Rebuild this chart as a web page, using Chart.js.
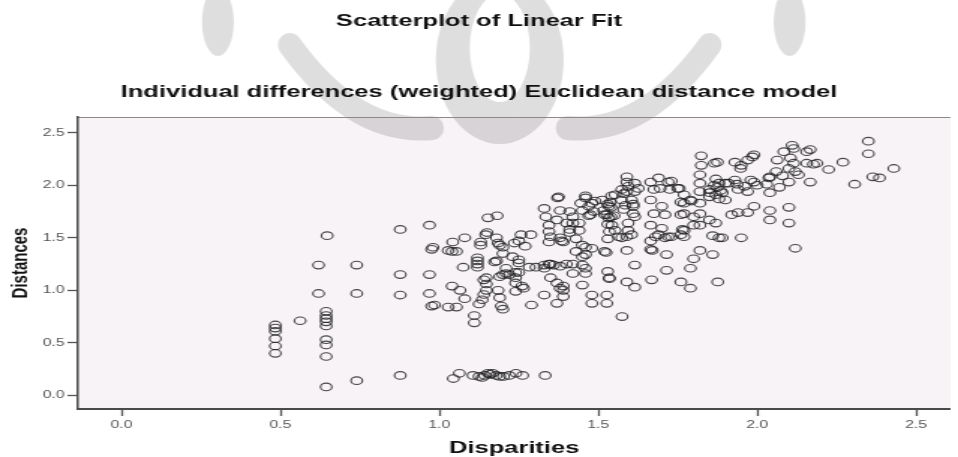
<!DOCTYPE html>
<html>
<head>
<meta charset="utf-8">
<title>Scatterplot of Linear Fit</title>
<script src="https://cdn.jsdelivr.net/npm/chart.js@4.4.1/dist/chart.umd.min.js"></script>
<style>
  html, body { margin: 0; padding: 0; background: #fff; }
  /* the source picture is stretched sideways, so the canvas is drawn narrow and widened by CSS */
  #chart { display: block; width: 958px !important; height: 457px !important; }
</style>
</head>
<body>
<canvas id="chart" width="639" height="457" style="width:958px;height:457px"></canvas>
<script>
// [disparity, distance] pairs, grouped by region
const leftColumns = [
  [0.484,0.67],[0.484,0.64],[0.484,0.61],[0.484,0.54],[0.484,0.47],[0.484,0.40],
  [0.562,0.71],[0.620,1.24],[0.620,0.97],[0.647,1.52],
  [0.644,0.80],[0.644,0.76],[0.644,0.73],[0.644,0.70],[0.644,0.66],[0.644,0.53],[0.644,0.48],[0.644,0.37],[0.644,0.08],
  [0.740,1.24],[0.740,0.97],[0.740,0.14],
  [0.877,1.58],[0.877,1.15],[0.877,0.955],[0.877,0.19],
  [0.969,1.62],[0.969,1.15],[0.969,0.97]
];

const bottomRow = [
  [1.044,0.16],[1.063,0.21],[1.106,0.19],[1.125,0.18],[1.135,0.17],[1.143,0.19],[1.153,0.21],[1.160,0.20],
  [1.168,0.21],[1.179,0.19],[1.190,0.18],[1.202,0.18],[1.220,0.19],[1.241,0.21],[1.262,0.19],[1.333,0.19]
];

const middleBand = [
  [0.976,1.39],[0.980,1.41],[0.976,0.85],[0.985,0.86],
  [1.028,0.84],[1.054,0.84],[1.028,1.38],[1.054,1.37],[1.040,1.37],[1.042,1.46],
  [1.040,1.04],[1.065,1.00],[1.080,1.50],[1.075,1.22],[1.080,0.92],
  [1.110,0.76],[1.110,0.69],
  [1.120,1.31],[1.120,1.28],[1.120,1.25],[1.120,1.22],
  [1.130,1.43],[1.130,1.46],[1.146,1.53],[1.150,1.55],[1.153,1.69],[1.182,1.71],
  [1.148,1.12],[1.148,1.06],[1.148,1.00],[1.140,0.96],[1.135,0.91],[1.140,1.10],[1.125,0.87],
  [1.185,1.00],[1.190,0.93],[1.195,0.85],[1.200,0.82],[1.174,1.27],[1.180,1.28],
  [1.190,1.43],[1.200,1.41],[1.200,1.35],[1.185,1.45],[1.180,1.50],
  [1.200,1.15],[1.210,1.16],[1.190,1.13],[1.210,1.21],[1.220,1.15],[1.240,1.12],
  [1.236,1.45],[1.230,1.32],[1.250,1.29],[1.250,1.26],[1.250,1.17],[1.240,1.17],[1.240,1.07],[1.240,0.99],[1.265,1.02],
  [1.257,1.53],[1.288,1.53],[1.250,1.47],[1.260,1.04],[1.270,1.42],
  [1.283,1.22],[1.304,1.22],[1.330,1.21],[1.290,0.86],
  [1.330,1.24],[1.345,1.25],[1.350,1.25],[1.360,1.24],[1.380,1.23],
  [1.330,0.955],
  [1.330,1.78],[1.335,1.70],[1.345,1.62],[1.345,1.56],[1.345,1.46],[1.350,1.51],
  [1.372,1.88],[1.375,1.89],[1.380,1.76],[1.380,1.50],[1.390,1.46],[1.385,1.47],[1.370,1.67],
  [1.350,1.12],[1.370,1.07],[1.380,1.02],[1.390,1.04],[1.390,1.00],[1.390,0.94],[1.370,0.876],
  [1.400,1.25],[1.420,1.25],[1.410,1.58],[1.420,1.70],[1.430,1.49],[1.400,1.64],[1.420,1.64],
  [1.410,1.55],[1.410,1.75],[1.430,1.37],[1.420,1.16],
  [1.440,1.57],[1.440,1.64],[1.445,1.83]
];

const upperBand = [
  [1.450,1.76],[1.460,1.88],[1.470,1.80],[1.470,1.71],[1.475,1.72],
  [1.450,1.43],[1.460,1.41],[1.480,1.40],[1.450,1.32],[1.460,1.34],[1.450,1.24],[1.460,1.21],[1.460,1.16],[1.450,1.05],
  [1.460,1.90],[1.480,1.83],[1.490,1.85],[1.486,1.75],
  [1.480,0.955],[1.480,0.876],[1.527,0.955],[1.527,0.876],
  [1.520,1.72],[1.540,1.70],[1.550,1.71],[1.530,1.82],[1.540,1.79],[1.530,1.63],[1.535,1.56],[1.530,1.49],[1.525,1.36],[1.520,1.37],
  [1.530,1.18],[1.535,1.12],[1.535,1.11],[1.575,0.75],
  [1.580,1.92],[1.585,1.81],[1.580,1.77],[1.542,1.90],[1.573,1.86],
  [1.590,1.08],[1.615,1.03],[1.615,1.24],[1.668,1.10],[1.590,1.38],
  [1.590,2.08],[1.590,2.03],[1.594,1.99],[1.615,2.02],[1.626,1.97],[1.615,1.94],[1.590,1.94],[1.605,1.86],
  [1.610,1.80],[1.610,1.82],[1.610,1.73],[1.615,1.70],[1.594,1.64],[1.594,1.57],[1.590,1.51],[1.605,1.53],
  [1.574,1.50],[1.564,1.51],[1.553,1.57],[1.543,1.62],[1.533,1.69],[1.527,1.72],[1.517,1.76],[1.533,1.80],
  [1.538,1.84],[1.512,1.86],[1.553,1.91],[1.574,1.96],
  [1.665,1.39],[1.670,1.38],[1.665,1.47],[1.715,1.19],[1.715,1.34],
  [1.700,1.80],[1.710,1.72],[1.700,1.59],[1.710,1.50],[1.690,1.53],[1.680,1.51],[1.665,1.62],[1.675,1.73],
  [1.665,1.86],[1.675,1.96],[1.665,2.03],
  [1.690,2.07],[1.695,1.97],[1.720,2.03],[1.725,1.96],[1.730,2.04],[1.750,1.97],[1.755,1.97],[1.770,1.91],
  [1.760,1.84],[1.790,1.86],[1.770,1.83],[1.793,1.85],
  [1.760,1.72],[1.770,1.73],[1.800,1.70],[1.820,1.73],[1.820,1.62],[1.800,1.62],[1.850,1.67],[1.870,1.64],
  [1.760,1.53],[1.770,1.57],[1.720,1.51],[1.730,1.51],[1.770,1.51],[1.765,1.58],
  [1.760,1.08],[1.790,1.02],[1.790,1.21],[1.800,1.30],[1.820,1.38],[1.860,1.34],[1.876,1.08],
  [1.860,1.52],[1.880,1.50],[1.890,1.50],
  [1.820,2.10],[1.820,2.02],[1.820,1.94],[1.820,1.83],[1.850,1.96],[1.850,1.89],[1.850,1.93],
  [1.870,2.06],[1.880,2.02],[1.875,1.98],[1.885,1.95],[1.870,1.91],[1.880,1.87],[1.890,1.93],[1.865,2.00],
  [1.824,2.28],[1.824,2.19],[1.875,2.22],[1.865,2.21]
];

const topRight = [
  [1.930,2.22],[1.950,2.19],[1.948,2.16],[1.970,2.24],[1.985,2.27],[1.990,2.29],
  [1.900,2.02],[1.900,1.86],[1.910,2.02],[1.937,2.01],[1.930,2.05],[1.940,1.96],[1.960,1.99],[1.970,1.94],[1.980,2.05],[1.990,2.03],
  [1.950,1.50],[1.920,1.72],[1.940,1.74],[1.970,1.74],[1.990,1.80],
  [2.000,2.00],[2.030,2.01],[2.040,1.93],[2.037,2.07],[2.040,2.08],[2.060,2.13],[2.070,1.98],[2.080,2.09],
  [2.100,2.16],[2.100,2.03],[2.120,2.13],[2.130,2.10],[2.167,2.03],
  [2.040,1.76],[2.040,1.67],[2.100,1.79],[2.100,1.64],[2.120,1.40],
  [2.063,2.24],[2.084,2.32],[2.105,2.26],[2.110,2.38],[2.115,2.35],[2.115,2.21],[2.156,2.32],[2.156,2.21],
  [2.167,2.34],[2.188,2.21],[2.177,2.20],
  [2.225,2.15],[2.270,2.22],[2.307,2.01],[2.350,2.42],[2.350,2.30],[2.364,2.08],[2.385,2.07],[2.430,2.16]
];

const xTicks = [0, 0.5, 1.0, 1.5, 2.0, 2.5];
const yTicks = [0, 0.5, 1.0, 1.5, 2.0, 2.5];

const FONT = "'Liberation Sans', Arial, sans-serif";
const STRETCH = 1.5;   // CSS width / canvas width

// pale plot background, the faint grey emblem behind the titles, and the thin top edge of the frame
const plotFrame = {
  id: 'plotFrame',
  beforeDraw(chart) {
    const { ctx, chartArea: a } = chart;
    ctx.save();
    ctx.fillStyle = '#F7F3F7';
    ctx.fillRect(a.left, a.top, a.right - a.left, a.bottom - a.top);

    // emblem, drawn in page (CSS) coordinates
    ctx.scale(1 / STRETCH, 1);
    ctx.fillStyle = 'rgba(0,0,0,0.13)';
    ctx.strokeStyle = 'rgba(0,0,0,0.13)';
    ctx.lineCap = 'round';
    [218, 790].forEach(ex => {
      ctx.beginPath();
      ctx.ellipse(ex, 22, 16, 34, 0, 0, Math.PI * 2);
      ctx.fill();
    });
    ctx.lineWidth = 24;
    ctx.beginPath();
    ctx.moveTo(290, 45);
    ctx.quadraticCurveTo(355, 135, 432, 128);
    ctx.stroke();
    ctx.beginPath();
    ctx.moveTo(710, 45);
    ctx.quadraticCurveTo(645, 135, 568, 128);
    ctx.stroke();
    // centre piece: a ring with a heavy lower rim
    ctx.beginPath();
    ctx.ellipse(500, 60, 64, 84, 0, 0, Math.PI * 2);
    ctx.ellipse(500, 48, 30, 54, 0, 0, Math.PI * 2);
    ctx.fill('evenodd');
    ctx.restore();

    ctx.save();
    ctx.strokeStyle = '#8a8a8a';
    ctx.lineWidth = 1;
    ctx.beginPath();
    ctx.moveTo(a.left, a.top + 0.5);
    ctx.lineTo(a.right, a.top + 0.5);
    ctx.stroke();
    ctx.restore();
  }
};

const allPoints = [...leftColumns, ...bottomRow, ...middleBand, ...upperBand, ...topRight]
  .map(([x, y]) => ({ x, y }));

new Chart(document.getElementById('chart'), {
  type: 'scatter',
  data: {
    datasets: [{
      label: 'Distances',
      data: allPoints,
      pointStyle: 'circle',
      pointRadius: 3.8,
      pointBorderWidth: 1.1,
      borderColor: 'rgba(30,30,30,0.8)',
      backgroundColor: 'rgba(0,0,0,0)',
    }]
  },
  options: {
    responsive: false,
    animation: false,
    events: [],
    layout: { padding: 0 },
    plugins: {
      legend: { display: false },
      tooltip: { enabled: false },
      title: {
        display: true,
        text: 'Scatterplot of Linear Fit',
        color: '#111',
        font: { family: FONT, size: 17, weight: 'bold' },
        padding: { top: 10.8, bottom: 20 }
      },
      subtitle: {
        display: true,
        text: 'Individual differences (weighted) Euclidean distance model',
        color: '#111',
        font: { family: FONT, size: 17, weight: 'bold' },
        padding: { top: 30.6, bottom: 14.8 }
      }
    },
    scales: {
      x: {
        type: 'linear',
        min: -0.137,
        max: 2.608,
        afterFit: s => { s.height = 48; },
        afterBuildTicks: s => { s.ticks = xTicks.map(v => ({ value: v })); },
        ticks: {
          padding: 3,
          maxRotation: 0,
          color: '#555',
          font: { family: FONT, size: 10.5 },
          callback: v => Number(v).toFixed(1)
        },
        grid: { drawOnChartArea: false, tickLength: 7, tickColor: '#555', tickWidth: 1.3 },
        border: { display: true, color: '#4a4a4a', width: 2 },
        title: {
          display: true,
          text: 'Disparities',
          color: '#111',
          font: { family: FONT, size: 17, weight: 'bold', lineHeight: 1 },
          padding: { top: 0, bottom: 0.5 }
        }
      },
      y: {
        type: 'linear',
        min: -0.13,
        max: 2.65,
        afterFit: s => { s.width = 52; },
        afterBuildTicks: s => { s.ticks = yTicks.map(v => ({ value: v })); },
        ticks: {
          padding: 2,
          color: '#555',
          font: { family: FONT, size: 10.5 },
          callback: v => Number(v).toFixed(1)
        },
        grid: { drawOnChartArea: false, tickLength: 7, tickColor: '#555', tickWidth: 1.3 },
        border: { display: true, color: '#4a4a4a', width: 1.5 },
        title: {
          display: true,
          text: 'Distances',
          color: '#111',
          font: { family: FONT, size: 15, weight: 'bold' },
          padding: { top: 5, bottom: 0 }
        }
      }
    }
  },
  plugins: [plotFrame]
});
</script>
</body>
</html>
